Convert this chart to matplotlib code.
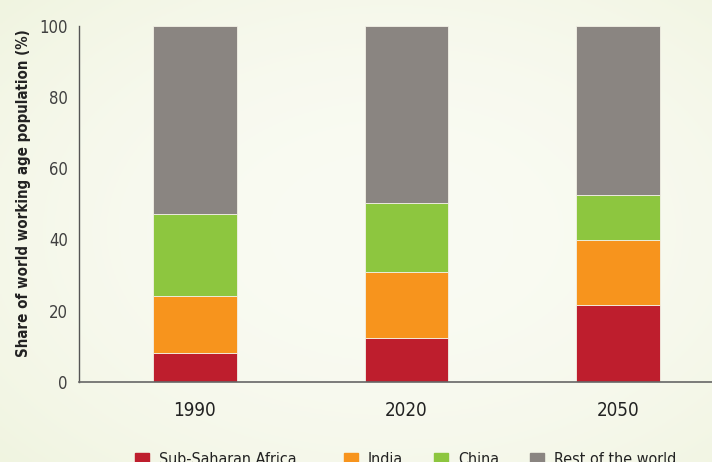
import numpy as np
import matplotlib
matplotlib.use("Agg")
import matplotlib.pyplot as plt
from matplotlib.patches import Rectangle

plt.rcParams['font.family'] = ['DejaVu Sans']
plt.rcParams['font.stretch'] = 'condensed'

years = ["1990", "2020", "2050"]
series = ["Sub-Saharan Africa", "India", "China", "Rest of the world"]
sub_saharan = [8.0, 12.4, 21.6]
india = [16.0, 18.4, 18.3]
china = [23.1, 19.4, 12.6]
rest_of_world = [52.9, 49.8, 47.5]
colors = ["#be1e2d", "#f7941d", "#8dc63f", "#8a8581"]

fig = plt.figure(figsize=(7.12, 4.62), dpi=100)

# soft tinted backdrop, lighter toward the middle
bg = fig.add_axes([0, 0, 1, 1], zorder=-10)
yy, xx = np.mgrid[0:1:200j, 0:1:300j]
r = np.sqrt(((xx - 0.55) / 0.75) ** 2 + ((yy - 0.5) / 0.75) ** 2)
t = np.clip(r, 0, 1) ** 2
c_in = np.array([250, 251, 243]) / 255
c_out = np.array([240, 244, 224]) / 255
img = c_in[None, None, :] * (1 - t[..., None]) + c_out[None, None, :] * t[..., None]
bg.imshow(img, aspect='auto', extent=[0, 1, 0, 1])
bg.axis('off')

ax = fig.add_axes([79 / 712, (462 - 381.7) / 462, 1 - 79 / 712, (381.7 - 25.7) / 462])
ax.patch.set_alpha(0)

x = np.arange(len(years))
bottom = np.zeros(len(years))
for vals, col, name in zip([sub_saharan, india, china, rest_of_world], colors, series):
    ax.bar(x, vals, bottom=bottom, width=0.397, color=col, label=name,
           edgecolor='#f3f1e6', linewidth=0.6, zorder=2)
    bottom += np.array(vals)

ax.set_xlim(-0.548, 2.444)
ax.set_ylim(0, 100)
ax.set_xticks(x)
ax.set_xticklabels(years, fontsize=13.5, color='#222222')
ax.set_yticks(np.arange(0, 101, 20))
ax.set_yticklabels([str(v) for v in range(0, 101, 20)], fontsize=12, color='#404040')
ax.tick_params(axis='both', length=0)
ax.tick_params(axis='x', pad=14)
ax.tick_params(axis='y', pad=8)
for s in ['top', 'right']:
    ax.spines[s].set_visible(False)
ax.spines['left'].set_color('#555555')
ax.spines['left'].set_linewidth(1.0)
ax.spines['bottom'].set_color('#666666')
ax.spines['bottom'].set_linewidth(1.2)

fig.text(24 / 712, 1 - 193.5 / 462, "Share of world working age population (%)",
         rotation=90, ha='center', va='center', fontsize=10.8,
         fontweight='bold', color='#222222')

# legend row along the bottom edge
sq_x = [135, 343.5, 434, 530]
sq = 14.4
cy = 460
for sx, col, name in zip(sq_x, colors, series):
    fig.patches.append(Rectangle((sx / 712, 1 - (cy + sq / 2) / 462), sq / 712, sq / 462,
                                 transform=fig.transFigure, color=col, figure=fig))
    fig.text((sx + sq + 9.5) / 712, 1 - cy / 462, name, ha='left', va='center',
             fontsize=11.5, color='#222222')

fig.savefig("out.png", dpi=100)
